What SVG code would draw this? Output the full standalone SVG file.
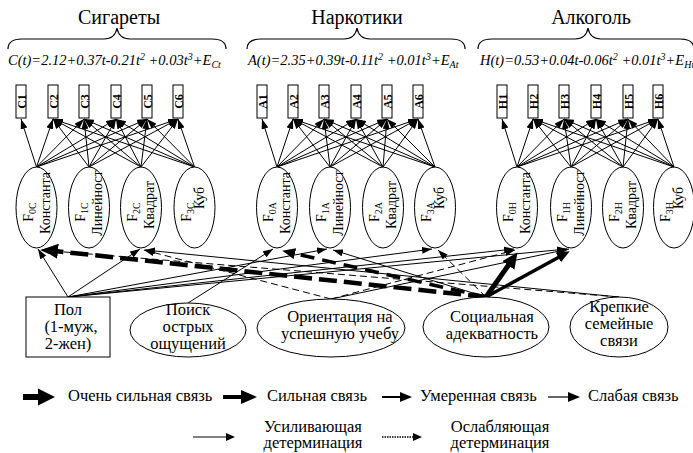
<svg xmlns="http://www.w3.org/2000/svg" width="693" height="453" viewBox="0 0 693 453">
<style>
text{font-family:'Liberation Serif','DejaVu Serif',serif;fill:#000}
.ttl{font-size:20px;text-anchor:middle}
.frm{font-size:14.5px;font-style:italic}
.bl{font-size:12px;font-weight:bold;text-anchor:middle}
.el{font-size:14px;text-anchor:middle}
.nd{font-size:16.5px;text-anchor:middle}
.lg{font-size:16.5px}
.box{fill:#fff;stroke:#000;stroke-width:1}
.ell{fill:#fff;stroke:#000;stroke-width:1}
.br{fill:none;stroke:#000;stroke-width:1.2}
.c{stroke:#000;stroke-width:1;fill:none;marker-end:url(#m1)}
.d{stroke:#000;stroke-width:1;fill:none;stroke-dasharray:7 4;marker-end:url(#m1)}
.vs{stroke:#000;stroke-width:5;fill:none;marker-end:url(#m3)}
.s{stroke:#000;stroke-width:3.5;fill:none;marker-end:url(#m2)}
.vsd{stroke:#000;stroke-width:4.5;fill:none;stroke-dasharray:18 7;marker-end:url(#m3)}
.sd{stroke:#000;stroke-width:3.5;fill:none;stroke-dasharray:14 8;marker-end:url(#m2)}
</style>
<defs>
<marker id="m1" viewBox="0 0 10 7" refX="10" refY="3.5" markerWidth="10" markerHeight="7" markerUnits="userSpaceOnUse" orient="auto"><path d="M0,0 L10,3.5 L0,7 z"/></marker>
<marker id="m2" viewBox="0 0 13 11" refX="3" refY="5.5" markerWidth="13" markerHeight="11" markerUnits="userSpaceOnUse" orient="auto"><path d="M0,0 L13,5.5 L0,11 z"/></marker>
<marker id="m3" viewBox="0 0 16 15" refX="3" refY="7.5" markerWidth="16" markerHeight="15" markerUnits="userSpaceOnUse" orient="auto"><path d="M0,0 L16,7.5 L0,15 z"/></marker>
</defs>
<rect width="693" height="453" fill="#fff"/>

<g id="headers">
<text class="ttl" x="119" y="24">Сигареты</text>
<text class="ttl" x="357" y="24">Наркотики</text>
<text class="ttl" x="591" y="24">Алкоголь</text>
<path class="br" d="M8,49 Q8,39 22,39 L104,39 Q115,39 117,28 Q119,39 130,39 L212,39 Q226,39 226,49"/>
<path class="br" d="M247,49 Q247,39 261,39 L344,39 Q355,39 357,28 Q359,39 370,39 L451,39 Q465,39 465,49"/>
<path class="br" d="M478,49 Q478,39 492,39 L575,39 Q586,39 588,28 Q590,39 601,39 L680,39 Q694,39 694,49"/>
<text class="frm" x="8" y="65">C(t)=2.12+0.37t-0.21t<tspan dy="-5" font-size="10">2</tspan><tspan dy="5"> +0.03t</tspan><tspan dy="-5" font-size="10">3</tspan><tspan dy="5">+E</tspan><tspan dy="3" font-size="10">Ct</tspan></text>
<text class="frm" x="248" y="65">A(t)=2.35+0.39t-0.11t<tspan dy="-5" font-size="10">2</tspan><tspan dy="5"> +0.01t</tspan><tspan dy="-5" font-size="10">3</tspan><tspan dy="5">+E</tspan><tspan dy="3" font-size="10">At</tspan></text>
<text class="frm" x="480" y="65">H(t)=0.53+0.04t-0.06t<tspan dy="-5" font-size="10">2</tspan><tspan dy="5"> +0.01t</tspan><tspan dy="-5" font-size="10">3</tspan><tspan dy="5">+E</tspan><tspan dy="3" font-size="10">Ht</tspan></text>
</g>

<g id="connectors">
<line class="c" x1="36.5" y1="167" x2="21" y2="119"/>
<line class="c" x1="36.5" y1="167" x2="53" y2="119"/>
<line class="c" x1="36.5" y1="167" x2="84" y2="119"/>
<line class="c" x1="36.5" y1="167" x2="116" y2="119"/>
<line class="c" x1="36.5" y1="167" x2="147" y2="119"/>
<line class="c" x1="36.5" y1="167" x2="178" y2="119"/>
<line class="c" x1="89" y1="167" x2="53" y2="119"/>
<line class="c" x1="89" y1="167" x2="84" y2="119"/>
<line class="c" x1="89" y1="167" x2="116" y2="119"/>
<line class="c" x1="89" y1="167" x2="147" y2="119"/>
<line class="c" x1="89" y1="167" x2="178" y2="119"/>
<line class="c" x1="141" y1="167" x2="53" y2="119"/>
<line class="c" x1="141" y1="167" x2="84" y2="119"/>
<line class="c" x1="141" y1="167" x2="116" y2="119"/>
<line class="c" x1="141" y1="167" x2="147" y2="119"/>
<line class="c" x1="141" y1="167" x2="178" y2="119"/>
<line class="c" x1="194.5" y1="167" x2="53" y2="119"/>
<line class="c" x1="194.5" y1="167" x2="84" y2="119"/>
<line class="c" x1="194.5" y1="167" x2="116" y2="119"/>
<line class="c" x1="194.5" y1="167" x2="147" y2="119"/>
<line class="c" x1="194.5" y1="167" x2="178" y2="119"/>
<line class="c" x1="277" y1="167" x2="262" y2="119"/>
<line class="c" x1="277" y1="167" x2="293" y2="119"/>
<line class="c" x1="277" y1="167" x2="324" y2="119"/>
<line class="c" x1="277" y1="167" x2="356" y2="119"/>
<line class="c" x1="277" y1="167" x2="387" y2="119"/>
<line class="c" x1="277" y1="167" x2="418" y2="119"/>
<line class="c" x1="330" y1="167" x2="293" y2="119"/>
<line class="c" x1="330" y1="167" x2="324" y2="119"/>
<line class="c" x1="330" y1="167" x2="356" y2="119"/>
<line class="c" x1="330" y1="167" x2="387" y2="119"/>
<line class="c" x1="330" y1="167" x2="418" y2="119"/>
<line class="c" x1="383" y1="167" x2="293" y2="119"/>
<line class="c" x1="383" y1="167" x2="324" y2="119"/>
<line class="c" x1="383" y1="167" x2="356" y2="119"/>
<line class="c" x1="383" y1="167" x2="387" y2="119"/>
<line class="c" x1="383" y1="167" x2="418" y2="119"/>
<line class="c" x1="435" y1="167" x2="293" y2="119"/>
<line class="c" x1="435" y1="167" x2="324" y2="119"/>
<line class="c" x1="435" y1="167" x2="356" y2="119"/>
<line class="c" x1="435" y1="167" x2="387" y2="119"/>
<line class="c" x1="435" y1="167" x2="418" y2="119"/>
<line class="c" x1="517" y1="167" x2="502" y2="119"/>
<line class="c" x1="517" y1="167" x2="533" y2="119"/>
<line class="c" x1="517" y1="167" x2="564" y2="119"/>
<line class="c" x1="517" y1="167" x2="596" y2="119"/>
<line class="c" x1="517" y1="167" x2="628" y2="119"/>
<line class="c" x1="517" y1="167" x2="658" y2="119"/>
<line class="c" x1="571" y1="167" x2="533" y2="119"/>
<line class="c" x1="571" y1="167" x2="564" y2="119"/>
<line class="c" x1="571" y1="167" x2="596" y2="119"/>
<line class="c" x1="571" y1="167" x2="628" y2="119"/>
<line class="c" x1="571" y1="167" x2="658" y2="119"/>
<line class="c" x1="623" y1="167" x2="533" y2="119"/>
<line class="c" x1="623" y1="167" x2="564" y2="119"/>
<line class="c" x1="623" y1="167" x2="596" y2="119"/>
<line class="c" x1="623" y1="167" x2="628" y2="119"/>
<line class="c" x1="623" y1="167" x2="658" y2="119"/>
<line class="c" x1="674" y1="167" x2="533" y2="119"/>
<line class="c" x1="674" y1="167" x2="564" y2="119"/>
<line class="c" x1="674" y1="167" x2="596" y2="119"/>
<line class="c" x1="674" y1="167" x2="628" y2="119"/>
<line class="c" x1="674" y1="167" x2="658" y2="119"/>
<!-- Пол -->
<line class="c" x1="68" y1="297" x2="38" y2="249"/>
<line class="c" x1="68" y1="297" x2="140" y2="249"/>
<line class="c" x1="68" y1="297" x2="327" y2="249"/>
<line class="c" x1="68" y1="297" x2="432" y2="249"/>
<line class="c" x1="68" y1="297" x2="514" y2="249"/>
<line class="c" x1="68" y1="297" x2="567" y2="249"/>
<!-- Поиск -->
<line class="c" x1="188" y1="303" x2="273" y2="249"/>
<!-- Ориентация -->
<line class="d" x1="331" y1="299" x2="144" y2="250"/>
<line class="d" x1="331" y1="299" x2="515" y2="250"/>
<line class="c" x1="331" y1="299" x2="569" y2="249"/>
<!-- Крепкие -->
<line class="c" x1="619" y1="297" x2="145" y2="250"/>
<line class="d" x1="619" y1="297" x2="40" y2="250"/>
<!-- Социальная -->
<line class="d" x1="486" y1="297" x2="438" y2="250"/>
<line class="c" x1="486" y1="297" x2="333" y2="250"/>
<line class="vsd" x1="486" y1="297" x2="55" y2="251"/>
<line class="sd" x1="486" y1="297" x2="292" y2="253"/>
<line class="vs" x1="486" y1="297" x2="510" y2="263"/>
<line class="s" x1="486" y1="297" x2="561" y2="256"/>
</g>

<g id="C1"><rect class="box" x="16" y="85" width="10" height="33"/><text class="bl" transform="translate(25.5,101.5) rotate(-90)">C1</text></g>
<g id="C2"><rect class="box" x="48" y="85" width="10" height="33"/><text class="bl" transform="translate(57.5,101.5) rotate(-90)">C2</text></g>
<g id="C3"><rect class="box" x="79" y="85" width="10" height="33"/><text class="bl" transform="translate(88.5,101.5) rotate(-90)">C3</text></g>
<g id="C4"><rect class="box" x="111" y="85" width="10" height="33"/><text class="bl" transform="translate(120.5,101.5) rotate(-90)">C4</text></g>
<g id="C5"><rect class="box" x="142" y="85" width="10" height="33"/><text class="bl" transform="translate(151.5,101.5) rotate(-90)">C5</text></g>
<g id="C6"><rect class="box" x="173" y="85" width="10" height="33"/><text class="bl" transform="translate(182.5,101.5) rotate(-90)">C6</text></g>
<g id="A1"><rect class="box" x="257" y="85" width="10" height="33"/><text class="bl" transform="translate(266.5,101.5) rotate(-90)">A1</text></g>
<g id="A2"><rect class="box" x="288" y="85" width="10" height="33"/><text class="bl" transform="translate(297.5,101.5) rotate(-90)">A2</text></g>
<g id="A3"><rect class="box" x="319" y="85" width="10" height="33"/><text class="bl" transform="translate(328.5,101.5) rotate(-90)">A3</text></g>
<g id="A4"><rect class="box" x="351" y="85" width="10" height="33"/><text class="bl" transform="translate(360.5,101.5) rotate(-90)">A4</text></g>
<g id="A5"><rect class="box" x="382" y="85" width="10" height="33"/><text class="bl" transform="translate(391.5,101.5) rotate(-90)">A5</text></g>
<g id="A6"><rect class="box" x="413" y="85" width="10" height="33"/><text class="bl" transform="translate(422.5,101.5) rotate(-90)">A6</text></g>
<g id="H1"><rect class="box" x="497" y="85" width="10" height="33"/><text class="bl" transform="translate(506.5,101.5) rotate(-90)">H1</text></g>
<g id="H2"><rect class="box" x="528" y="85" width="10" height="33"/><text class="bl" transform="translate(537.5,101.5) rotate(-90)">H2</text></g>
<g id="H3"><rect class="box" x="559" y="85" width="10" height="33"/><text class="bl" transform="translate(568.5,101.5) rotate(-90)">H3</text></g>
<g id="H4"><rect class="box" x="591" y="85" width="10" height="33"/><text class="bl" transform="translate(600.5,101.5) rotate(-90)">H4</text></g>
<g id="H5"><rect class="box" x="623" y="85" width="10" height="33"/><text class="bl" transform="translate(632.5,101.5) rotate(-90)">H5</text></g>
<g id="H6"><rect class="box" x="653" y="85" width="10" height="33"/><text class="bl" transform="translate(662.5,101.5) rotate(-90)">H6</text></g>

<g id="F0C"><ellipse class="ell" cx="36.5" cy="207.5" rx="20.5" ry="40.5"/><text class="el" transform="translate(32.5,212) rotate(-90)">F<tspan dy="3" font-size="10">0C</tspan></text><text class="el" transform="translate(49.5,203) rotate(-90)">Константа</text></g>
<g id="F1C"><ellipse class="ell" cx="89" cy="207.5" rx="20.5" ry="40.5"/><text class="el" transform="translate(85,212) rotate(-90)">F<tspan dy="3" font-size="10">1C</tspan></text><text class="el" transform="translate(102,203) rotate(-90)">Линейност</text></g>
<g id="F2C"><ellipse class="ell" cx="141" cy="207.5" rx="20.5" ry="40.5"/><text class="el" transform="translate(137,212) rotate(-90)">F<tspan dy="3" font-size="10">2C</tspan></text><text class="el" transform="translate(154,205) rotate(-90)">Квадрат</text></g>
<g id="F3C"><ellipse class="ell" cx="194.5" cy="207.5" rx="20.5" ry="40.5"/><text class="el" transform="translate(190.5,212) rotate(-90)">F<tspan dy="3" font-size="10">3C</tspan></text><text class="el" transform="translate(203.5,198) rotate(-90)">Куб</text></g>
<g id="F0A"><ellipse class="ell" cx="277" cy="207.5" rx="20.5" ry="40.5"/><text class="el" transform="translate(273,212) rotate(-90)">F<tspan dy="3" font-size="10">0A</tspan></text><text class="el" transform="translate(290,203) rotate(-90)">Константа</text></g>
<g id="F1A"><ellipse class="ell" cx="330" cy="207.5" rx="20.5" ry="40.5"/><text class="el" transform="translate(326,212) rotate(-90)">F<tspan dy="3" font-size="10">1A</tspan></text><text class="el" transform="translate(343,203) rotate(-90)">Линейност</text></g>
<g id="F2A"><ellipse class="ell" cx="383" cy="207.5" rx="20.5" ry="40.5"/><text class="el" transform="translate(379,212) rotate(-90)">F<tspan dy="3" font-size="10">2A</tspan></text><text class="el" transform="translate(396,205) rotate(-90)">Квадрат</text></g>
<g id="F3A"><ellipse class="ell" cx="435" cy="207.5" rx="20.5" ry="40.5"/><text class="el" transform="translate(431,212) rotate(-90)">F<tspan dy="3" font-size="10">3A</tspan></text><text class="el" transform="translate(444,198) rotate(-90)">Куб</text></g>
<g id="F0H"><ellipse class="ell" cx="517" cy="207.5" rx="20.5" ry="40.5"/><text class="el" transform="translate(513,212) rotate(-90)">F<tspan dy="3" font-size="10">0H</tspan></text><text class="el" transform="translate(530,203) rotate(-90)">Константа</text></g>
<g id="F1H"><ellipse class="ell" cx="571" cy="207.5" rx="20.5" ry="40.5"/><text class="el" transform="translate(567,212) rotate(-90)">F<tspan dy="3" font-size="10">1H</tspan></text><text class="el" transform="translate(584,203) rotate(-90)">Линейност</text></g>
<g id="F2H"><ellipse class="ell" cx="623" cy="207.5" rx="20.5" ry="40.5"/><text class="el" transform="translate(619,212) rotate(-90)">F<tspan dy="3" font-size="10">2H</tspan></text><text class="el" transform="translate(636,205) rotate(-90)">Квадрат</text></g>
<g id="F3H"><ellipse class="ell" cx="674" cy="207.5" rx="20.5" ry="40.5"/><text class="el" transform="translate(670,212) rotate(-90)">F<tspan dy="3" font-size="10">3H</tspan></text><text class="el" transform="translate(683,198) rotate(-90)">Куб</text></g>

<g id="pol"><rect class="box" x="26" y="297" width="84" height="60"/><text class="nd" x="68" y="315">Пол</text><text class="nd" x="71" y="332">(1-муж,</text><text class="nd" x="68" y="349">2-жен)</text></g>
<g id="poisk"><ellipse class="ell" cx="188" cy="330" rx="58" ry="27"/><text class="nd" x="188" y="315">Поиск</text><text class="nd" x="188" y="332">острых</text><text class="nd" x="188" y="349">ощущений</text></g>
<g id="orient"><ellipse class="ell" cx="331" cy="328" rx="74" ry="29"/><text class="nd" x="340" y="322">Ориентация на</text><text class="nd" x="340" y="339">успешную учебу</text></g>
<g id="social"><ellipse class="ell" cx="486" cy="327" rx="63" ry="30"/><text class="nd" x="492" y="322">Социальная</text><text class="nd" x="492" y="339">адекватность</text></g>
<g id="krep"><ellipse class="ell" cx="619" cy="327" rx="49" ry="30"/><text class="nd" x="619" y="312">Крепкие</text><text class="nd" x="619" y="329">семейные</text><text class="nd" x="619" y="346">связи</text></g>

<g id="legend">
<line x1="23" y1="397" x2="40" y2="397" stroke="#000" stroke-width="6"/><path d="M38,388.5 L55,397 L38,405.5 z"/>
<text class="lg" x="68" y="401">Очень сильная связь</text>
<line x1="223" y1="397" x2="243" y2="397" stroke="#000" stroke-width="4"/><path d="M241,390 L257,397 L241,404 z"/>
<text class="lg" x="267" y="401">Сильная связь</text>
<line x1="382" y1="397" x2="402" y2="397" stroke="#000" stroke-width="2"/><path d="M400,392 L412,397 L400,402 z"/>
<text class="lg" x="420" y="401">Умеренная связь</text>
<line x1="548" y1="397" x2="570" y2="397" stroke="#000" stroke-width="1.2"/><path d="M568,392 L580,397 L568,402 z"/>
<text class="lg" x="588" y="401">Слабая связь</text>
<line x1="193" y1="437" x2="228" y2="437" stroke="#555" stroke-width="1.3"/><path d="M226,433 L235,437 L226,441 z"/>
<text class="lg" x="313" y="432" text-anchor="middle">Усиливающая</text>
<text class="lg" x="313" y="448" text-anchor="middle">детерминация</text>
<line x1="382" y1="437" x2="414" y2="437" stroke="#000" stroke-width="1.3" stroke-dasharray="1.5 1"/><path d="M413,433 L422,437 L413,441 z"/>
<text class="lg" x="500" y="432" text-anchor="middle">Ослабляющая</text>
<text class="lg" x="500" y="448" text-anchor="middle">детерминация</text>
</g>
</svg>
